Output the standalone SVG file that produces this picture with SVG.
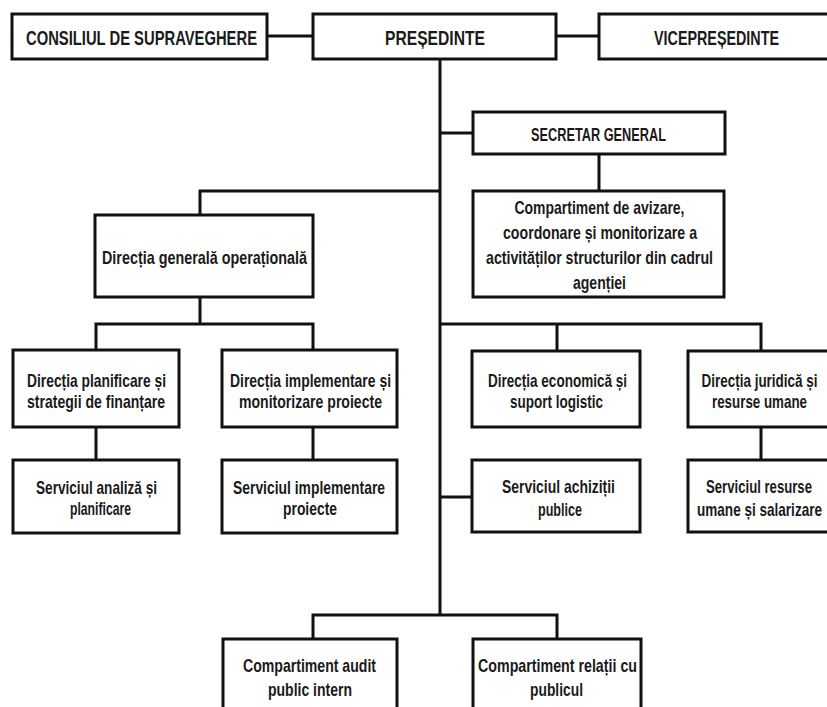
<svg xmlns="http://www.w3.org/2000/svg" width="827" height="707" viewBox="0 0 827 707">
<style>
.box{fill:#fff;stroke:#111;stroke-width:3}
.ln{fill:none;stroke:#111;stroke-width:3;stroke-linecap:square}
text{font-family:"Liberation Sans Narrow","Liberation Sans",Arial,sans-serif;font-weight:bold;fill:#1a1a1a;text-anchor:middle}
.t1{font-size:21px}
.t2{font-size:18.5px}
</style>
<rect width="827" height="707" fill="#fff"/>
<g id="connectors">
<path class="ln" d="M267,36H313M556,36H599M440,59V615M440,133H473M599,154V191M200,191H440M200,191V215M200,297V324M96,324H313M96,324V350M313,324V350M96,427V460M313,427V460M440,324H761M557,324V351M761,324V351M761,427V460M440,497H472M313,615H557M313,615V639M557,615V639"/>
</g>
<g id="consiliu"><rect class="box" x="12" y="14" width="255" height="45"/><text class="t1" x="141.5" y="44.5" textLength="231" lengthAdjust="spacingAndGlyphs">CONSILIUL DE SUPRAVEGHERE</text></g>
<g id="presedinte"><rect class="box" x="313" y="14" width="243" height="45"/><text class="t1" x="435" y="44.5" textLength="100" lengthAdjust="spacingAndGlyphs">PREȘEDINTE</text></g>
<g id="vicepresedinte"><rect class="box" x="599" y="14" width="235" height="45"/><text class="t1" x="716.5" y="44.5" textLength="125" lengthAdjust="spacingAndGlyphs">VICEPREȘEDINTE</text></g>
<g id="secretar"><rect class="box" x="473" y="112" width="252" height="42"/><text class="t2" x="598.5" y="140.5" textLength="135" lengthAdjust="spacingAndGlyphs">SECRETAR GENERAL</text></g>
<g id="compartiment-avizare"><rect class="box" x="473" y="191" width="251" height="106"/>
<text class="t2" x="599.5" y="213.5" textLength="170" lengthAdjust="spacingAndGlyphs">Compartiment de avizare,</text>
<text class="t2" x="600" y="238.5" textLength="194" lengthAdjust="spacingAndGlyphs">coordonare și monitorizare a</text>
<text class="t2" x="599.5" y="263.5" textLength="227" lengthAdjust="spacingAndGlyphs">activităților structurilor din cadrul</text>
<text class="t2" x="599.5" y="288.5" textLength="53" lengthAdjust="spacingAndGlyphs">agenției</text></g>
<g id="directia-generala"><rect class="box" x="95" y="215" width="218" height="82"/><text class="t2" x="204.5" y="263.5" textLength="205" lengthAdjust="spacingAndGlyphs">Direcția generală operațională</text></g>
<g id="directia-planificare"><rect class="box" x="13" y="350" width="166" height="77"/>
<text class="t2" x="96.5" y="386.5" textLength="139" lengthAdjust="spacingAndGlyphs">Direcția planificare și</text>
<text class="t2" x="96" y="407.5" textLength="138" lengthAdjust="spacingAndGlyphs">strategii de finanțare</text></g>
<g id="directia-implementare"><rect class="box" x="222" y="350" width="175" height="77"/>
<text class="t2" x="310.5" y="386.5" textLength="161" lengthAdjust="spacingAndGlyphs">Direcția implementare și</text>
<text class="t2" x="310.5" y="407.5" textLength="143" lengthAdjust="spacingAndGlyphs">monitorizare proiecte</text></g>
<g id="serviciul-analiza"><rect class="box" x="13" y="460" width="166" height="73"/>
<text class="t2" x="96.5" y="493.5" textLength="121" lengthAdjust="spacingAndGlyphs">Serviciul analiză și</text>
<text class="t2" x="100.5" y="514.5" textLength="61" lengthAdjust="spacingAndGlyphs">planificare</text></g>
<g id="serviciul-implementare"><rect class="box" x="222" y="460" width="175" height="73"/>
<text class="t2" x="309" y="493.5" textLength="152" lengthAdjust="spacingAndGlyphs">Serviciul implementare</text>
<text class="t2" x="310" y="514.5" textLength="54" lengthAdjust="spacingAndGlyphs">proiecte</text></g>
<g id="directia-economica"><rect class="box" x="472" y="351" width="168" height="76"/>
<text class="t2" x="557.5" y="386.5" textLength="139" lengthAdjust="spacingAndGlyphs">Direcția economică și</text>
<text class="t2" x="556.5" y="407.5" textLength="93" lengthAdjust="spacingAndGlyphs">suport logistic</text></g>
<g id="directia-juridica"><rect class="box" x="688" y="351" width="146" height="76"/>
<text class="t2" x="759.5" y="386.5" textLength="116" lengthAdjust="spacingAndGlyphs">Direcția juridică și</text>
<text class="t2" x="759.5" y="407.5" textLength="95" lengthAdjust="spacingAndGlyphs">resurse umane</text></g>
<g id="serviciul-achizitii"><rect class="box" x="472" y="460" width="168" height="72"/>
<text class="t2" x="558.5" y="492.5" textLength="113" lengthAdjust="spacingAndGlyphs">Serviciul achiziții</text>
<text class="t2" x="560" y="515.5" textLength="44" lengthAdjust="spacingAndGlyphs">publice</text></g>
<g id="serviciul-resurse"><rect class="box" x="688" y="460" width="146" height="72"/>
<text class="t2" x="759" y="492.5" textLength="106" lengthAdjust="spacingAndGlyphs">Serviciul resurse</text>
<text class="t2" x="759.5" y="515.5" textLength="125" lengthAdjust="spacingAndGlyphs">umane și salarizare</text></g>
<g id="compartiment-audit"><rect class="box" x="223" y="639" width="174" height="80"/>
<text class="t2" x="309.5" y="671.5" textLength="133" lengthAdjust="spacingAndGlyphs">Compartiment audit</text>
<text class="t2" x="310" y="695.5" textLength="84" lengthAdjust="spacingAndGlyphs">public intern</text></g>
<g id="compartiment-relatii"><rect class="box" x="473" y="639" width="168" height="80"/>
<text class="t2" x="557.5" y="671.5" textLength="159" lengthAdjust="spacingAndGlyphs">Compartiment relații cu</text>
<text class="t2" x="556.5" y="695.5" textLength="53" lengthAdjust="spacingAndGlyphs">publicul</text></g>
</svg>
